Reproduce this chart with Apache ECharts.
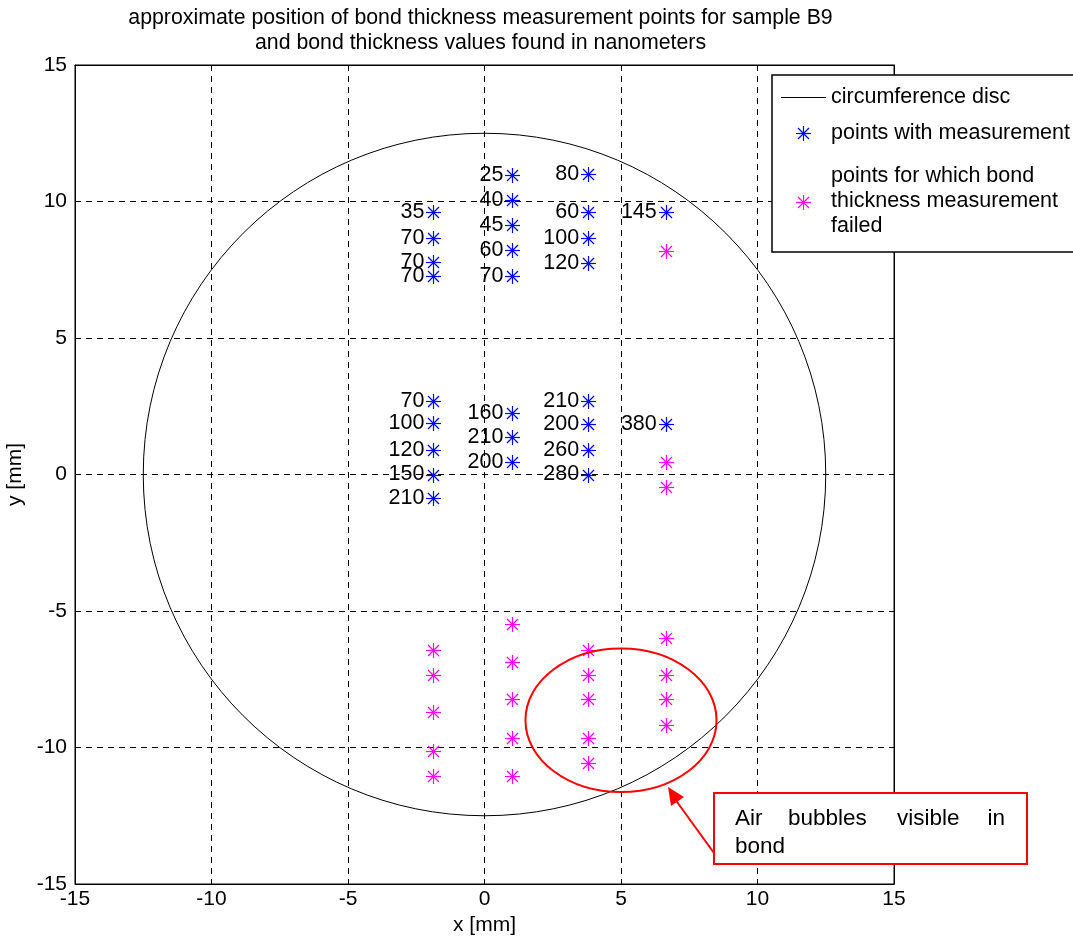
<!DOCTYPE html>
<html><head><meta charset="utf-8">
<script src="https://cdn.jsdelivr.net/npm/echarts@6/dist/echarts.min.js"></script>
<style>html,body{margin:0;padding:0;background:#fff}#c{width:1073px;height:939px}</style>
</head><body><div id="c"></div>
<script>
// ---- data ----
const titleLines = ['approximate position of bond thickness measurement points for sample B9', 'and bond thickness values found in nanometers'];
const discRadius = 12.5;
// measured points
const measX = [-1.87,-1.87,-1.87,-1.87, 1.02,1.02,1.02,1.02,1.02, 3.8,3.8,3.8,3.8, 6.64,
               -1.87,-1.87,-1.87,-1.87,-1.87, 1.02,1.02,1.02, 3.8,3.8,3.8,3.8, 6.64];
const measY = [9.63,8.65,7.77,7.27, 10.97,10.05,9.14,8.22,7.28, 11.0,9.63,8.65,7.74, 9.63,
               2.70,1.88,0.9,0,-0.87, 2.26,1.36,0.45, 2.70,1.85,0.9,0, 1.84];
const measVal = [35,70,70,70, 25,40,45,60,70, 80,60,100,120, 145,
                 70,100,120,150,210, 160,210,200, 210,200,260,280, 380];
// failed points
const failX = [6.64,6.64,6.64, -1.87,-1.87,-1.87,-1.87,-1.87, 1.02,1.02,1.02,1.02,1.02,
               3.8,3.8,3.8,3.8,3.8, 6.64,6.64,6.64,6.64];
const failY = [8.2,0.45,-0.47, -6.43,-7.34,-8.71,-10.12,-11.03, -5.49,-6.88,-8.23,-9.64,-11.03,
               -6.43,-7.34,-8.23,-9.64,-10.58, -5.98,-7.34,-8.23,-9.18];
// air-bubble ellipse: center x, center y, radius x, radius y
const bubbleEllipse = [5.0, -9.0, 3.5, 2.63];
const legendLabels = ['circumference disc', 'points with measurement', 'points for which bond\nthickness measurement\nfailed'];
const noteText = ['Air', 'bubbles', 'visible', 'in', 'bond'];

const FONT = '"Liberation Sans", Arial, sans-serif';
const BLUE = '#0000ff', MAG = '#ff00ff';

function starShapes(cx, cy, color, z) {
  cx = Math.round(cx) + 0.5; cy = Math.round(cy) + 0.5;
  const a = 7.5, d = 5.5;
  const segs = [[-a,0,a,0],[0,-a,0,a],[-d,-d,d,d],[-d,d,d,-d]];
  return segs.map(s => {
    const o = {type:'line', shape:{x1:cx+s[0], y1:cy+s[1], x2:cx+s[2], y2:cy+s[3]},
      style:{stroke:color, lineWidth:1.2}};
    if (z != null) o.z = z;
    return o;
  });
}

const chart = echarts.init(document.getElementById('c'), null, {renderer:'canvas'});

const axisCommon = {
  type:'value', min:-15, max:15, interval:5,
  axisLine:{show:true, onZero:false, lineStyle:{color:'#000', width:1}},
  axisTick:{show:true, inside:true, length:5, lineStyle:{color:'#000'}},
  splitLine:{show:false},
};

const option = {
  animation:false,
  backgroundColor:'#fff',
  grid:{left:75, top:65, width:819, height:819, show:true, borderColor:'#000', borderWidth:1,
        containLabel:false, outerBoundsMode:'none'},
  xAxis:[
    Object.assign({}, axisCommon, {position:'bottom',
      splitLine:{show:true, lineStyle:{color:'#000', type:[6,5], width:1}},
      axisLabel:{color:'#000', fontSize:21, fontFamily:FONT, margin:5},
      name:'x [mm]', nameLocation:'middle', nameGap:31,
      nameTextStyle:{color:'#000', fontSize:21, fontFamily:FONT}}),
    Object.assign({}, axisCommon, {position:'top', axisLabel:{show:false}})
  ],
  yAxis:[
    Object.assign({}, axisCommon, {position:'left',
      splitLine:{show:true, lineStyle:{color:'#000', type:[6,5], width:1}},
      axisLabel:{color:'#000', fontSize:21, fontFamily:FONT, margin:8},
      name:'y [mm]', nameLocation:'middle', nameGap:46,
      nameTextStyle:{color:'#000', fontSize:21, fontFamily:FONT}}),
    Object.assign({}, axisCommon, {position:'right', axisLabel:{show:false}})
  ],
  series:[
    {
      type:'custom', name:'circumference disc', clip:false,
      data:[[0,0,discRadius]],
      renderItem:(params, api) => {
        const c = api.coord([api.value(0), api.value(1)]);
        const r = api.size([api.value(2), api.value(2)]);
        return {type:'ellipse', shape:{cx:c[0], cy:c[1], rx:r[0], ry:r[1]},
          style:{fill:'none', stroke:'#000', lineWidth:1}};
      }
    },
    {
      type:'custom', name:'points with measurement', clip:false,
      data: measX.map((x,i)=>[x, measY[i], measVal[i]]),
      renderItem:(params, api) => {
        const c = api.coord([api.value(0), api.value(1)]);
        const kids = starShapes(c[0], c[1], BLUE);
        kids.push({type:'text', style:{text:String(api.value(2)), x:c[0]-9, y:c[1],
          align:'right', verticalAlign:'middle', fill:'#000', fontSize:21.5, fontFamily:FONT}});
        return {type:'group', children:kids};
      }
    },
    {
      type:'custom', name:'failed', clip:false,
      data: failX.map((x,i)=>[x, failY[i]]),
      renderItem:(params, api) => {
        const c = api.coord([api.value(0), api.value(1)]);
        return {type:'group', children:starShapes(c[0], c[1], MAG)};
      }
    },
    {
      type:'custom', name:'bubbles', clip:false,
      data:[bubbleEllipse],
      renderItem:(params, api) => {
        const c = api.coord([api.value(0), api.value(1)]);
        const r = api.size([api.value(2), api.value(3)]);
        return {type:'ellipse', shape:{cx:c[0], cy:c[1], rx:r[0], ry:r[1]},
          style:{fill:'none', stroke:'#ff0000', lineWidth:2}};
      }
    }
  ]
};

chart.setOption(option);

// ---- annotations (titles, legend, note box) ----
const tcx = 480.5;
const T = (text, x, y, size, align, extra) => Object.assign({type:'text', x, y, z:51,
  style:Object.assign({text, align:align||'left', verticalAlign:'middle', fill:'#000', fontSize:size, fontFamily:FONT}, extra||{})});
const gr = [
  T(titleLines[0], tcx, 18, 21.3, 'center'),
  T(titleLines[1], tcx, 43, 21.3, 'center'),
  // legend box
  {type:'rect', shape:{x:772, y:75, width:320, height:177}, style:{fill:'#fff', stroke:'#000', lineWidth:1.5}, z:50},
  {type:'line', shape:{x1:781, y1:97.5, x2:826, y2:97.5}, style:{stroke:'#000', lineWidth:1}, z:51},
  T(legendLabels[0], 831, 97, 21.5),
  ...starShapes(803, 133, BLUE, 51),
  T(legendLabels[1], 831, 133, 21.5),
  ...starShapes(803, 202, MAG, 51),
  T(legendLabels[2], 831, 201, 21.5, 'left', {lineHeight:25}),
  // note box
  {type:'rect', shape:{x:714, y:793, width:313, height:71}, style:{fill:'#fff', stroke:'#ff0000', lineWidth:2}, z:50},
  T(noteText[0], 735, 819, 22.5),
  T(noteText[1], 788, 819, 22.5),
  T(noteText[2], 897, 819, 22.5),
  T(noteText[3], 1005, 819, 22.5, 'right'),
  T(noteText[4], 735, 847, 22.5),
  // arrow
  {type:'line', shape:{x1:714, y1:853, x2:672, y2:795}, style:{stroke:'#ff0000', lineWidth:2}, z:51},
  {type:'polygon', shape:{points:[[668,787],[684,797],[671,806]]}, style:{fill:'#ff0000'}, z:52}
];
chart.setOption({graphic:gr});
</script></body></html>
